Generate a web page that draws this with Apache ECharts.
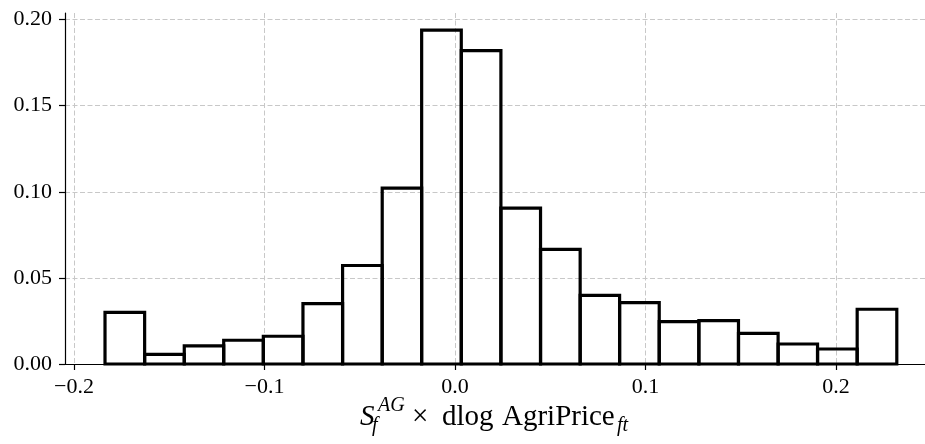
<!DOCTYPE html>
<html>
<head>
<meta charset="utf-8">
<script src="https://cdn.jsdelivr.net/npm/echarts@6/dist/echarts.min.js"></script>
<style>
html,body{margin:0;padding:0;background:#fff;}
#chart{width:925px;height:444px;}
</style>
</head>
<body>
<div id="chart"></div>
<script>
// Histogram bin edges (21 edges -> 20 bins)
const binEdges = [-0.1837, -0.1629, -0.1421, -0.1214, -0.1006, -0.0798, -0.0590, -0.0382,
  -0.0175, 0.0033, 0.0241, 0.0449, 0.0657, 0.0864, 0.1072, 0.1280, 0.1488, 0.1696,
  0.1903, 0.2111, 0.2319];
// Bin heights (density share)
const binHeights = [0.030, 0.0056, 0.0105, 0.0138, 0.0161, 0.035, 0.0572, 0.1021, 0.1938,
  0.182, 0.0905, 0.0665, 0.0399, 0.0356, 0.0246, 0.0252, 0.0178, 0.0116, 0.0087, 0.0318];
// Tick values
const xTicks = [-0.2, -0.1, 0.0, 0.1, 0.2];
const yTicks = [0.00, 0.05, 0.10, 0.15, 0.20];

const data = binHeights.map((h, i) => [binEdges[i], binEdges[i + 1], h]);

const FONT = '"Liberation Serif", "DejaVu Serif", serif';
const gridColor = '#c8c8c8';

const chart = echarts.init(document.getElementById('chart'), null, {renderer: 'canvas'});
chart.setOption({
  animation: false,
  backgroundColor: '#fff',
  grid: {left: 65, right: 0, top: 13, bottom: 80},
  xAxis: {
    type: 'value',
    min: -0.2047,
    max: 0.2467,
    axisLine: {show: true, onZero: false, lineStyle: {color: '#000', width: 1.2}},
    axisTick: {show: true, customValues: xTicks, length: 6, lineStyle: {color: '#000', width: 1.2}},
    axisLabel: {
      customValues: xTicks,
      margin: 12,
      fontFamily: FONT, fontSize: 22, color: '#000',
      formatter: v => (v < 0 ? '\u2212' : '') + Math.abs(v).toFixed(1)
    },
    splitLine: {show: true, lineStyle: {color: gridColor, width: 1, type: [5, 2.5]}}
  },
  yAxis: {
    type: 'value',
    min: 0,
    max: 0.2038,
    axisLine: {show: true, onZero: false, lineStyle: {color: '#000', width: 1.2}},
    axisTick: {show: true, customValues: yTicks, length: 6, lineStyle: {color: '#000', width: 1.2}},
    axisLabel: {
      customValues: yTicks,
      margin: 13,
      fontFamily: FONT, fontSize: 22, color: '#000',
      formatter: v => v.toFixed(2)
    },
    splitLine: {show: true, lineStyle: {color: gridColor, width: 1, type: [5, 2.5]}}
  },
  series: [{
    type: 'custom',
    data: data,
    encode: {x: [0, 1], y: 2},
    clip: false,
    renderItem: function (params, api) {
      const p0 = api.coord([api.value(0), 0]);
      const p1 = api.coord([api.value(1), api.value(2)]);
      return {
        type: 'rect',
        shape: {x: p0[0], y: p1[1], width: p1[0] - p0[0], height: p0[1] - p1[1]},
        style: {fill: 'rgba(0,0,0,0)', stroke: '#000', lineWidth: 3.2, lineJoin: 'miter'}
      };
    }
  }],
  graphic: [
    {type: 'text', x: 360, y: 417, style: {text: 'S', font: 'italic 29px ' + FONT, fill: '#000', verticalAlign: 'middle', align: 'left'}},
    {type: 'text', x: 378, y: 406, style: {text: 'AG', font: 'italic 20px ' + FONT, fill: '#000', verticalAlign: 'middle', align: 'left'}},
    {type: 'text', x: 372, y: 426, style: {text: 'f', font: 'italic 20px ' + FONT, fill: '#000', verticalAlign: 'middle', align: 'left'}},
    {type: 'text', x: 412, y: 417, style: {text: '\u00d7', font: '29px ' + FONT, fill: '#000', verticalAlign: 'middle', align: 'left'}},
    {type: 'text', x: 442, y: 417, style: {text: 'dlog', font: '29px ' + FONT, fill: '#000', verticalAlign: 'middle', align: 'left'}},
    {type: 'text', x: 502, y: 417, style: {text: 'AgriPrice', font: '29px ' + FONT, fill: '#000', verticalAlign: 'middle', align: 'left'}},
    {type: 'text', x: 617, y: 426, style: {text: 'ft', font: 'italic 20px ' + FONT, fill: '#000', verticalAlign: 'middle', align: 'left'}}
  ]
});
</script>
</body>
</html>
